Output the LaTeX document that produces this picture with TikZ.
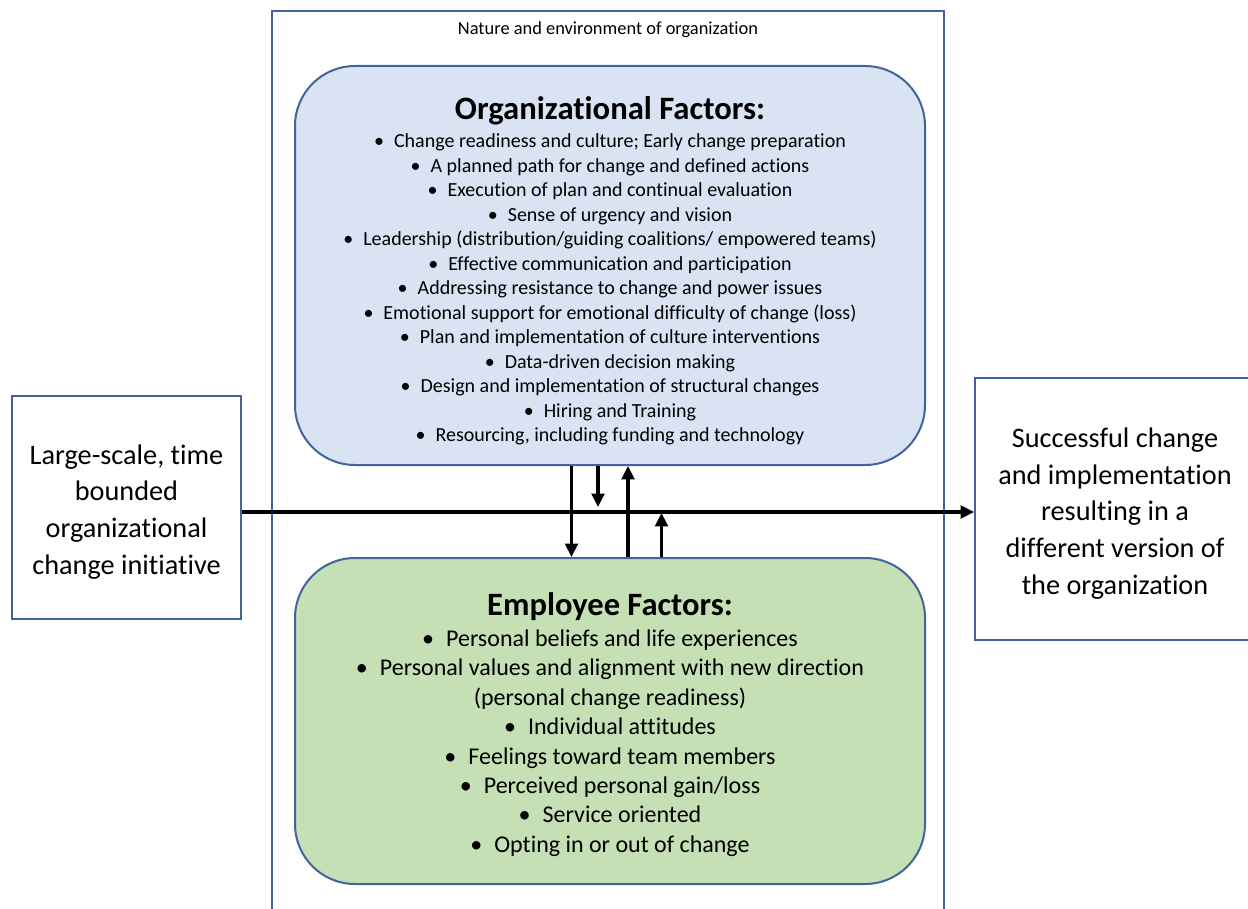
\documentclass[tikz,border=0pt]{standalone}
\usepackage{fontspec}
\setmainfont{Carlito}[Ligatures=CommonOff]
\usetikzlibrary{arrows.meta}
\definecolor{bord}{HTML}{41659B}
\definecolor{orgfill}{HTML}{DAE3F3}
\definecolor{empfill}{HTML}{C5E0B4}
\tikzset{
  pbox/.style={draw=bord, line width=1.5pt, rectangle, inner sep=0pt, align=center},
  factorbox/.style={pbox, rounded corners=45pt},
  conn/.style={line width=2.3pt, -{Triangle[length=10pt,width=9.5pt]}}
}
\newcommand{\itm}[1]{\textbullet\hspace{0.5em}#1}
\begin{document}
\begin{tikzpicture}[x=0.75pt,y=-0.75pt]
\useasboundingbox (0,0) rectangle (1248,909);
% outer environment box (bottom cut off)
\draw[bord, line width=1.5pt] (272,915) -- (272,11) -- (944,11) -- (944,915);
\node[font=\fontsize{13.8}{16}\selectfont] (env) at (608,30) {Nature and environment of organization};
% organizational factors
\node[factorbox, fill=orgfill, minimum width=630*0.75pt, minimum height=399*0.75pt] (org) at (610,265.5) {};
\node[align=center, font=\fontsize{15}{18.4}\selectfont, anchor=north] (orgtxt) at (610,92)
 {{\fontsize{24.5}{26}\selectfont\bfseries Organizational Factors:}\\[2.5pt]
  \itm{Change readiness and culture; Early change preparation}\\
  \itm{A planned path for change and defined actions}\\
  \itm{Execution of plan and continual evaluation}\\
  \itm{Sense of urgency and vision}\\
  \itm{Leadership (distribution/guiding coalitions/ empowered teams)}\\
  \itm{Effective communication and participation}\\
  \itm{Addressing resistance to change and power issues}\\
  \itm{Emotional support for emotional difficulty of change (loss)}\\
  \itm{Plan and implementation of culture interventions}\\
  \itm{Data-driven decision making}\\
  \itm{Design and implementation of structural changes}\\
  \itm{Hiring and Training}\\
  \itm{Resourcing, including funding and technology}};
% employee factors
\node[factorbox, fill=empfill, minimum width=630*0.75pt, minimum height=326*0.75pt] (emp) at (610,721) {};
\node[align=center, font=\fontsize{18}{22.05}\selectfont, anchor=north] (emptxt) at (610,588)
 {{\fontsize{24.4}{26}\selectfont\bfseries Employee Factors:}\\[1.2pt]
  \itm{Personal beliefs and life experiences}\\
  \itm{Personal values and alignment with new direction}\\
  (personal change readiness)\\
  \itm{Individual attitudes}\\
  \itm{Feelings toward team members}\\
  \itm{Perceived personal gain/loss}\\
  \itm{Service oriented}\\
  \itm{Opting in or out of change}};
% side boxes
\node[pbox, minimum width=229*0.75pt, minimum height=223*0.75pt,
      font=\fontsize{21.2}{27.5}\selectfont] (init) at (126.5,507.5)
 {\rule{0pt}{6pt}\\[-12.2pt]Large-scale, time\\ bounded\\ organizational\\ change initiative};
\node[pbox, minimum width=280*0.75pt, minimum height=262*0.75pt,
      font=\fontsize{21.2}{27.5}\selectfont] (result) at (1115,509)
 {\rule{0pt}{6pt}\\[-12pt]Successful change\\ and implementation\\ resulting in a\\ different version of\\ the organization};
% connectors
\draw[conn] (init.east |- 0,512) -- (result.west |- 0,512);
\coordinate (a2end) at (598,507);
\coordinate (a4end) at (661.5,513);
\draw[conn] (org.south -| 571.5,0) -- (emp.north -| 571.5,0);
\draw[conn] (org.south -| 598,0) -- (a2end);
\draw[conn] (emp.north -| 628,0) -- (org.south -| 628,0);
\draw[conn] (emp.north -| 661.5,0) -- (a4end);
\end{tikzpicture}
\end{document}
